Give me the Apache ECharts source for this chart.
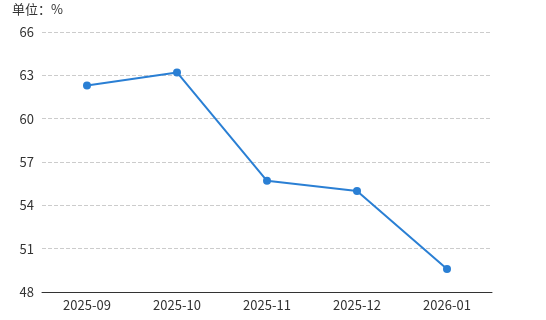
<!DOCTYPE html>
<html><head><meta charset="utf-8">
<script src="https://cdn.jsdelivr.net/npm/echarts@6/dist/echarts.min.js"></script>
<style>html,body{margin:0;padding:0;background:#fff}#c{width:546px;height:320px}</style>
</head><body><div id="c"></div>
<script>
const categories = ['2025-09','2025-10','2025-11','2025-12','2026-01'];
const values = [62.3, 63.2, 55.7, 55.0, 49.6];
const yTicks = [48, 51, 54, 57, 60, 63, 66];
const unitLabel = '单位：%';

const chart = echarts.init(document.getElementById('c'));
chart.setOption({
  animation: false,
  backgroundColor: '#fff',
  textStyle: { fontFamily: '"Noto Sans CJK SC", "Noto Sans", sans-serif' },
  grid: { left: 42, right: 54, top: 32, bottom: 28, containLabel: false },
  title: { text: unitLabel, left: 7, top: -2, textStyle: { fontSize: 13, fontWeight: 'normal', color: '#333' } },
  xAxis: {
    type: 'category', data: categories, boundaryGap: true,
    axisLine: { lineStyle: { color: '#333' } },
    axisTick: { alignWithLabel: true, length: 5, lineStyle: { color: '#333' } },
    axisLabel: { color: '#333', fontSize: 13, margin: 7 }
  },
  yAxis: {
    type: 'value', min: yTicks[0], max: yTicks[yTicks.length-1], interval: 3,
    axisLine: { show: false }, axisTick: { show: false },
    axisLabel: { color: '#333', fontSize: 13, margin: 8 },
    splitLine: { lineStyle: { type: 'dashed', color: '#ccc' } }
  },
  series: [{
    type: 'line', data: values,
    symbol: 'circle', symbolSize: 8,
    lineStyle: { color: '#2a7fd4', width: 2 },
    itemStyle: { color: '#2a7fd4' }
  }]
});
</script></body></html>
